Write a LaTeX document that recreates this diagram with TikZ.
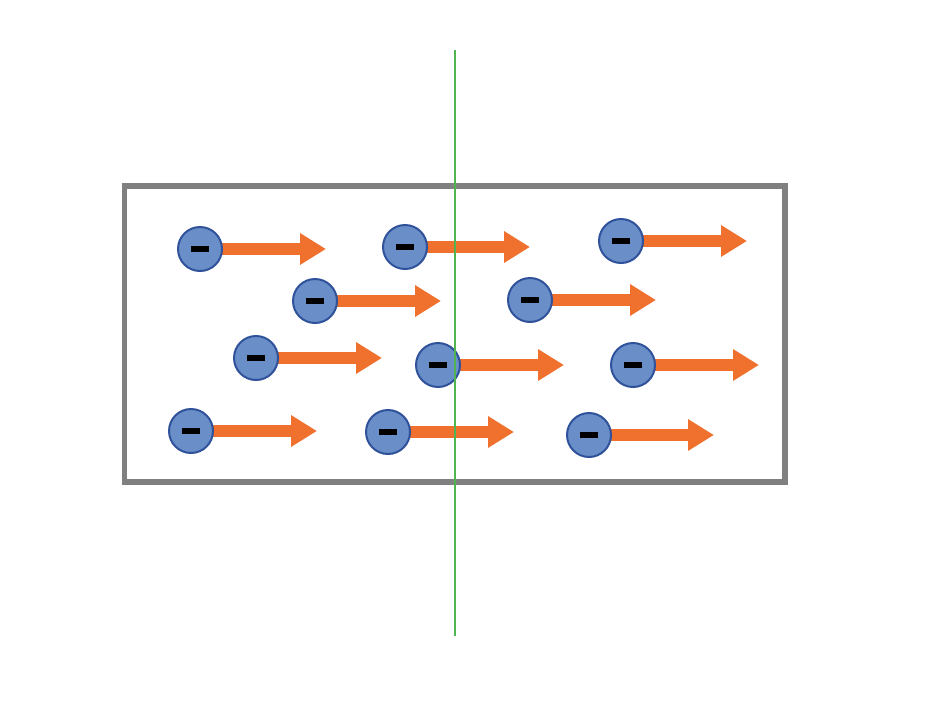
\documentclass[tikz,border=0pt]{standalone}
\usetikzlibrary{arrows.meta}
\definecolor{ebody}{RGB}{106,142,199}
\definecolor{erim}{RGB}{47,82,155}
\definecolor{drift}{RGB}{240,112,46}
\definecolor{wire}{RGB}{128,128,128}
\definecolor{cut}{RGB}{80,180,80}
\pgfdeclarelayer{behind}
\pgfsetlayers{behind,main}
\newcommand{\elecsign}{\rule{0.36cm}{0.12cm}}
\tikzset{
  electron/.style={circle,draw=erim,fill=ebody,line width=0.04cm,
    minimum size=0.88cm,inner sep=0pt},
  flow/.style={draw=drift,line width=0.23cm,
    -{Triangle[length=0.52cm,width=0.6cm]}},
}
\begin{document}
\begin{tikzpicture}[x=0.02cm,y=-0.02cm]
      \useasboundingbox (0,0) rectangle (930,710);
      \draw[wire,line width=0.11cm] (124.5,186) rectangle (785,482);
      \draw
        (200,249) node[electron] (e1){\elecsign}
        (405,247) node[electron] (e2){\elecsign}
        (621,241) node[electron] (e3){\elecsign}
        (315,301) node[electron] (e4){\elecsign}
        (530,300) node[electron] (e5){\elecsign}
        (256,358) node[electron] (e6){\elecsign}
        (438,365) node[electron] (e7){\elecsign}
        (633,365) node[electron] (e8){\elecsign}
        (191,431) node[electron] (e9){\elecsign}
        (388,432) node[electron] (e10){\elecsign}
        (589,435) node[electron] (e11){\elecsign};
      \draw
        (326,249) coordinate (t1)
        (530,247) coordinate (t2)
        (747,241) coordinate (t3)
        (441,301) coordinate (t4)
        (656,300) coordinate (t5)
        (382,358) coordinate (t6)
        (564,365) coordinate (t7)
        (759,365) coordinate (t8)
        (317,431) coordinate (t9)
        (514,432) coordinate (t10)
        (714,435) coordinate (t11);
      \begin{pgfonlayer}{behind}
      \begin{scope}[flow]
        \draw (e1.center) to (t1);
        \draw (e2.center) to (t2);
        \draw (e3.center) to (t3);
        \draw (e4.center) to (t4);
        \draw (e5.center) to (t5);
        \draw (e6.center) to (t6);
        \draw (e7.center) to (t7);
        \draw (e8.center) to (t8);
        \draw (e9.center) to (t9);
        \draw (e10.center) to (t10);
        \draw (e11.center) to (t11);
      \end{scope}
      \end{pgfonlayer}
      \draw[cut,line width=0.03cm] (455,50) -- (455,636);
    \end{tikzpicture}
\end{document}
